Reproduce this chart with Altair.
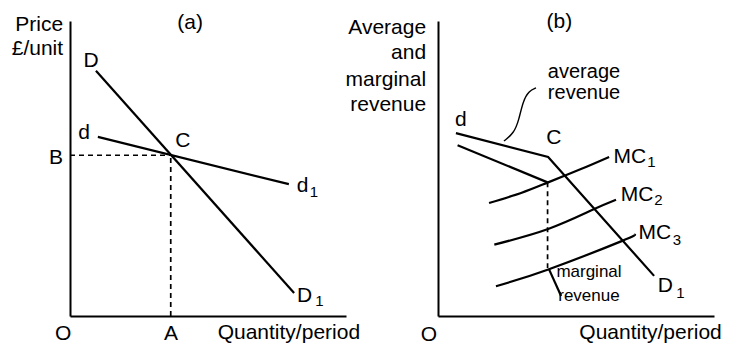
import altair as alt
import pandas as pd

FONT = "Liberation Sans"

# ---------------- panel (a): kinked-demand intersection ----------------
a_D_q = [9.4, 81.2]          # steep demand D -> D1
a_D_p = [83.1, 7.8]
a_d_q = [10.1, 79.3]         # flat demand d -> d1
a_d_p = [60.7, 44.7]
a_C_q = 36.5                 # point C (quantity A, price B)
a_C_p = 54.5

# ---------------- panel (b): kinked AR, MR with gap, MC curves ----------------
b_ar_q = [6.5, 39.9, 78.3]   # average revenue d - C - D1
b_ar_p = [62.0, 53.9, 13.6]
b_mr1_q = [7.1, 39.7]        # marginal revenue, upper part
b_mr1_p = [57.9, 45.3]
b_mr2_q = [40.2, 44.6]       # marginal revenue, lower part
b_mr2_p = [15.9, 6.8]
b_gap_q = 39.7               # discontinuity of MR (dashed)
b_gap_p = [45.3, 16.3]
mc1_q = [18.5, 30.1, 39.9, 51.8, 62.0]
mc1_p = [38.3, 41.7, 45.3, 49.8, 53.9]
mc2_q = [20.4, 39.9, 56.0, 64.5]
mc2_p = [24.2, 29.5, 36.0, 39.4]
mc3_q = [21.0, 39.7, 66.3, 71.1]
mc3_p = [10.1, 15.7, 25.3, 27.6]
lead_q = [35.5, 33.0, 30.8, 29.3, 27.5, 23.9]   # leader from "average revenue" label
lead_p = [77.3, 76.3, 72.9, 66.4, 62.0, 59.3]

# ---------------- labels ----------------
a_lab_text = ["(a)", "D", "d", "C", "B", "d", "D", "O", "A", "Quantity/period"]
a_lab_q = [43.5, 7.6, 5.1, 40.9, -5.1, 84.3, 85.0, -2.5, 36.6, 79.3]
a_lab_p = [99.3, 86.4, 62.0, 59.3, 53.6, 44.1, 6.8, -6.1, -6.1, -5.8]
a_sub_text = ["1", "1"]
a_sub_q = [88.4, 90.4]
a_sub_p = [41.9, 5.1]
a_ytitle = ["Price", "£/unit"]
a_ytitle_q = [-2.5, -2.5]
a_ytitle_p = [98.6, 90.5]

b_lab_text = ["(b)", "d", "C", "MC", "MC", "MC", "D", "O", "Quantity/period"]
b_lab_q = [44.0, 8.3, 42.0, 69.5, 72.1, 78.6, 82.4, -3.3, 77.0]
b_lab_p = [99.7, 66.4, 60.3, 53.9, 41.0, 28.1, 10.2, -6.4, -5.8]
b_ar_text = ["average", "revenue"]
b_ar_lab_q = [52.9, 52.9]
b_ar_lab_p = [82.6, 75.6]
b_sub_text = ["1", "2", "3", "1"]
b_sub_q = [77.3, 79.9, 86.6, 87.8]
b_sub_p = [52.2, 39.3, 25.8, 7.8]
b_small_text = ["marginal", "revenue"]
b_small_q = [54.7, 54.7]
b_small_p = [14.9, 6.8]
b_ytitle = ["Average", "and", "marginal", "revenue"]
b_ytitle_q = [-4.3, -4.3, -4.3, -4.3]
b_ytitle_p = [97.6, 89.2, 80.0, 71.5]


def lines(*series):
    rows = []
    for name, qs, ps in series:
        for i, (q, p) in enumerate(zip(qs, ps)):
            rows.append({"s": name, "i": i, "q": q, "p": p})
    return pd.DataFrame(rows)


def labels(texts, qs, ps):
    return pd.DataFrame({"t": texts, "q": qs, "p": ps})


XS = alt.Scale(domain=[0, 100], nice=False, zero=False)
YS = alt.Scale(domain=[0, 100], nice=False, zero=False)
AX = alt.Axis(domain=True, domainColor="black", domainWidth=2, ticks=False,
              labels=False, grid=False, title=None)


def enc_line(chart):
    return chart.encode(
        x=alt.X("q:Q", scale=XS, axis=AX),
        y=alt.Y("p:Q", scale=YS, axis=AX),
        detail="s:N",
        order="i:Q",
    )


def text_layer(df, size=21, align="center"):
    return alt.Chart(df).mark_text(font=FONT, fontSize=size, align=align,
                                   baseline="middle", color="black").encode(
        x=alt.X("q:Q", scale=XS, axis=AX),
        y=alt.Y("p:Q", scale=YS, axis=AX),
        text="t:N",
    )


W, H = 276, 295
LW = 2.2

# panel (a)
a_solid = enc_line(alt.Chart(lines(("D", a_D_q, a_D_p), ("d", a_d_q, a_d_p)))
                   .mark_line(color="black", strokeWidth=LW))
a_dash = enc_line(alt.Chart(lines(("h", [0, a_C_q], [a_C_p, a_C_p]),
                                  ("v", [a_C_q, a_C_q], [0, a_C_p])))
                  .mark_line(color="black", strokeWidth=1.7, strokeDash=[5, 4]))
panel_a = alt.layer(
    a_solid, a_dash,
    text_layer(labels(a_lab_text, a_lab_q, a_lab_p)),
    text_layer(labels(a_sub_text, a_sub_q, a_sub_p), size=15),
    text_layer(labels(a_ytitle, a_ytitle_q, a_ytitle_p), align="right"),
).properties(width=W, height=H)

# panel (b)
b_solid = enc_line(alt.Chart(lines(("ar", b_ar_q, b_ar_p), ("mr1", b_mr1_q, b_mr1_p),
                                   ("mr2", b_mr2_q, b_mr2_p)))
                   .mark_line(color="black", strokeWidth=LW))
b_curves = enc_line(alt.Chart(lines(("mc1", mc1_q, mc1_p), ("mc2", mc2_q, mc2_p),
                                    ("mc3", mc3_q, mc3_p)))
                    .mark_line(color="black", strokeWidth=LW, interpolate="natural"))
b_lead = enc_line(alt.Chart(lines(("lead", lead_q, lead_p)))
                  .mark_line(color="black", strokeWidth=1.4, interpolate="basis"))
b_dash = enc_line(alt.Chart(lines(("gap", [b_gap_q, b_gap_q], b_gap_p)))
                  .mark_line(color="black", strokeWidth=1.7, strokeDash=[5, 4]))
panel_b = alt.layer(
    b_solid, b_curves, b_lead, b_dash,
    text_layer(labels(b_lab_text, b_lab_q, b_lab_p)),
    text_layer(labels(b_ar_text, b_ar_lab_q, b_ar_lab_p), size=20),
    text_layer(labels(b_sub_text, b_sub_q, b_sub_p), size=15),
    text_layer(labels(b_small_text, b_small_q, b_small_p), size=17),
    text_layer(labels(b_ytitle, b_ytitle_q, b_ytitle_p), align="right"),
).properties(width=W, height=H)

chart = alt.hconcat(panel_a, panel_b, spacing=92, bounds="flush").properties(
    padding={"left": 3, "top": 2, "right": 0, "bottom": 0},
    background="white",
).configure_view(stroke=None)

chart.save("out.html", embed_options={"renderer": "svg", "actions": False})
